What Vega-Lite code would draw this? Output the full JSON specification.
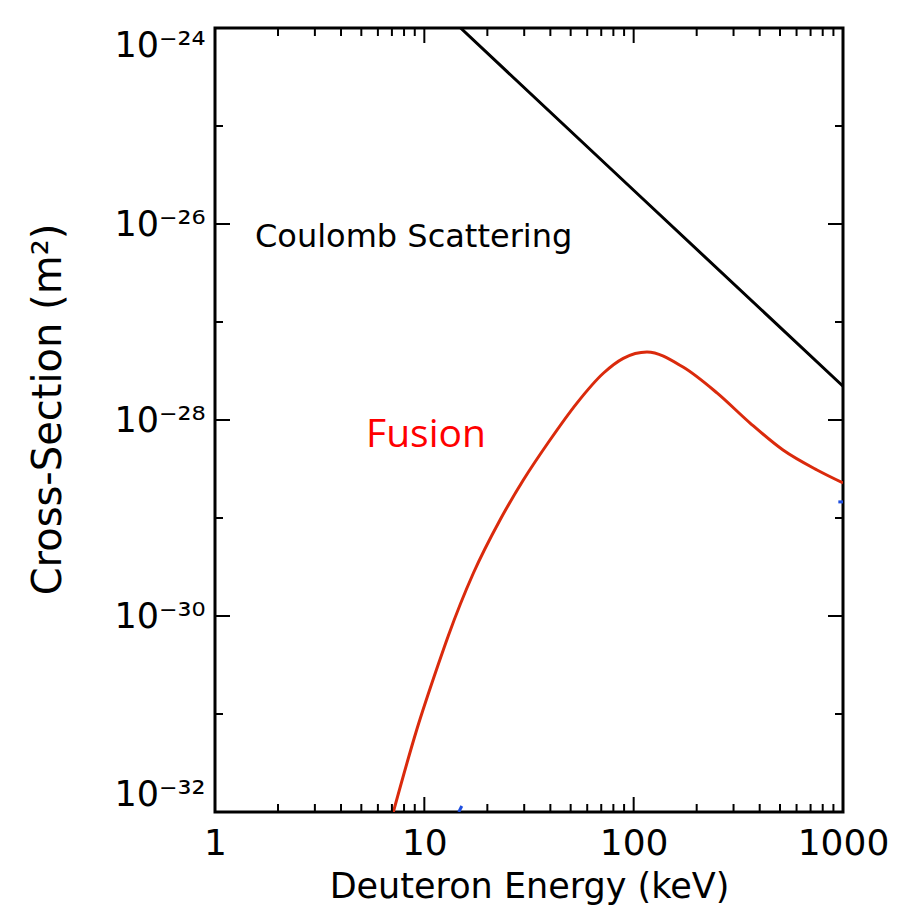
{
  "$schema": "https://vega.github.io/schema/vega-lite/v6.json",
  "width": 628,
  "height": 784,
  "autosize": "none",
  "padding": {"left": 215, "top": 28, "right": 65, "bottom": 96},
  "background": "white",
  "datasets": {
    "coulomb": [
      {"E": 14.9, "sigma": 1e-24},
      {"E": 100, "sigma": 2.21e-26},
      {"E": 1000, "sigma": 2.21e-28}
    ],
    "fusion": [
      {"E": 7.11, "sigma": 1.0e-32},
      {"E": 9.19, "sigma": 6.87e-32},
      {"E": 11.63, "sigma": 3.16e-31},
      {"E": 13.02, "sigma": 6.3e-31},
      {"E": 17.14, "sigma": 2.73e-30},
      {"E": 22.99, "sigma": 9.55e-30},
      {"E": 29.71, "sigma": 2.44e-29},
      {"E": 39.84, "sigma": 6.25e-29},
      {"E": 53.45, "sigma": 1.48e-28},
      {"E": 71.6, "sigma": 3.0e-28},
      {"E": 89.2, "sigma": 4.26e-28},
      {"E": 115.8, "sigma": 4.94e-28},
      {"E": 172.1, "sigma": 3.47e-28},
      {"E": 250, "sigma": 1.89e-28},
      {"E": 359.7, "sigma": 9.31e-29},
      {"E": 517, "sigma": 4.94e-29},
      {"E": 751.6, "sigma": 3.09e-29},
      {"E": 1000, "sigma": 2.28e-29}
    ],
    "blue": [
      {"seg": "a", "E": 14.6, "sigma": 1.0e-32},
      {"seg": "a", "E": 15.1, "sigma": 1.15e-32},
      {"seg": "b", "E": 950, "sigma": 1.46e-29},
      {"seg": "b", "E": 1000, "sigma": 1.46e-29}
    ],
    "labels": [
      {"E": 1.553, "sigma": 5.82e-27, "text": "Coulomb Scattering", "kind": "coulomb"},
      {"E": 5.265, "sigma": 5.35e-29, "text": "Fusion", "kind": "fusion"}
    ],
    "xticks": [
      {"E": 2, "edge": 1e-32, "kind": "minor"}, {"E": 3, "edge": 1e-32, "kind": "minor"}, {"E": 4, "edge": 1e-32, "kind": "minor"}, {"E": 5, "edge": 1e-32, "kind": "minor"}, {"E": 6, "edge": 1e-32, "kind": "minor"}, {"E": 7, "edge": 1e-32, "kind": "minor"}, {"E": 8, "edge": 1e-32, "kind": "minor"}, {"E": 9, "edge": 1e-32, "kind": "minor"},
      {"E": 10, "edge": 1e-32, "kind": "major"},
      {"E": 20, "edge": 1e-32, "kind": "minor"}, {"E": 30, "edge": 1e-32, "kind": "minor"}, {"E": 40, "edge": 1e-32, "kind": "minor"}, {"E": 50, "edge": 1e-32, "kind": "minor"}, {"E": 60, "edge": 1e-32, "kind": "minor"}, {"E": 70, "edge": 1e-32, "kind": "minor"}, {"E": 80, "edge": 1e-32, "kind": "minor"}, {"E": 90, "edge": 1e-32, "kind": "minor"},
      {"E": 100, "edge": 1e-32, "kind": "major"},
      {"E": 200, "edge": 1e-32, "kind": "minor"}, {"E": 300, "edge": 1e-32, "kind": "minor"}, {"E": 400, "edge": 1e-32, "kind": "minor"}, {"E": 500, "edge": 1e-32, "kind": "minor"}, {"E": 600, "edge": 1e-32, "kind": "minor"}, {"E": 700, "edge": 1e-32, "kind": "minor"}, {"E": 800, "edge": 1e-32, "kind": "minor"}, {"E": 900, "edge": 1e-32, "kind": "minor"},
      {"E": 2, "edge": 1e-24, "kind": "minor"}, {"E": 3, "edge": 1e-24, "kind": "minor"}, {"E": 4, "edge": 1e-24, "kind": "minor"}, {"E": 5, "edge": 1e-24, "kind": "minor"}, {"E": 6, "edge": 1e-24, "kind": "minor"}, {"E": 7, "edge": 1e-24, "kind": "minor"}, {"E": 8, "edge": 1e-24, "kind": "minor"}, {"E": 9, "edge": 1e-24, "kind": "minor"},
      {"E": 10, "edge": 1e-24, "kind": "major"},
      {"E": 20, "edge": 1e-24, "kind": "minor"}, {"E": 30, "edge": 1e-24, "kind": "minor"}, {"E": 40, "edge": 1e-24, "kind": "minor"}, {"E": 50, "edge": 1e-24, "kind": "minor"}, {"E": 60, "edge": 1e-24, "kind": "minor"}, {"E": 70, "edge": 1e-24, "kind": "minor"}, {"E": 80, "edge": 1e-24, "kind": "minor"}, {"E": 90, "edge": 1e-24, "kind": "minor"},
      {"E": 100, "edge": 1e-24, "kind": "major"},
      {"E": 200, "edge": 1e-24, "kind": "minor"}, {"E": 300, "edge": 1e-24, "kind": "minor"}, {"E": 400, "edge": 1e-24, "kind": "minor"}, {"E": 500, "edge": 1e-24, "kind": "minor"}, {"E": 600, "edge": 1e-24, "kind": "minor"}, {"E": 700, "edge": 1e-24, "kind": "minor"}, {"E": 800, "edge": 1e-24, "kind": "minor"}, {"E": 900, "edge": 1e-24, "kind": "minor"}
    ],
    "yticks": [
      {"sigma": 1e-31, "edge": 1, "kind": "minor"}, {"sigma": 1e-30, "edge": 1, "kind": "major"}, {"sigma": 1e-29, "edge": 1, "kind": "minor"}, {"sigma": 1e-28, "edge": 1, "kind": "major"}, {"sigma": 1e-27, "edge": 1, "kind": "minor"}, {"sigma": 1e-26, "edge": 1, "kind": "major"}, {"sigma": 1e-25, "edge": 1, "kind": "minor"},
      {"sigma": 1e-31, "edge": 1000, "kind": "minor"}, {"sigma": 1e-30, "edge": 1000, "kind": "major"}, {"sigma": 1e-29, "edge": 1000, "kind": "minor"}, {"sigma": 1e-28, "edge": 1000, "kind": "major"}, {"sigma": 1e-27, "edge": 1000, "kind": "minor"}, {"sigma": 1e-26, "edge": 1000, "kind": "major"}, {"sigma": 1e-25, "edge": 1000, "kind": "minor"}
    ]
  },
  "layer": [
    {
      "data": {"name": "coulomb"},
      "mark": {"type": "line", "color": "black", "strokeWidth": 3, "clip": true},
      "encoding": {
        "x": {
          "field": "E", "type": "quantitative",
          "scale": {"type": "log", "domain": [1, 1000], "nice": false},
          "axis": {
            "orient": "bottom",
            "title": "Deuteron Energy (keV)",
            "values": [1, 10, 100, 1000],
            "format": "d",
            "ticks": false,
            "domain": false,
            "labelPadding": 14,
            "labelFontSize": 36,
            "labelFlush": false,
            "titleY": 74,
            "titleBaseline": "middle"
          }
        },
        "y": {
          "field": "sigma", "type": "quantitative",
          "scale": {"type": "log", "domain": [1e-32, 1e-24], "nice": false},
          "axis": {
            "orient": "left",
            "title": "Cross-Section (m²)",
            "values": [1e-32, 1e-30, 1e-28, 1e-26, 1e-24],
            "labelExpr": "round(log(datum.value)/LN10) == -24 ? '10⁻²⁴' : round(log(datum.value)/LN10) == -26 ? '10⁻²⁶' : round(log(datum.value)/LN10) == -28 ? '10⁻²⁸' : round(log(datum.value)/LN10) == -30 ? '10⁻³⁰' : '10⁻³²'",
            "ticks": false,
            "domain": false,
            "labelPadding": 10,
            "labelFontSize": 35,
            "labelFlush": true,
            "titleFontSize": 40,
            "titleAngle": -90,
            "titleX": -167,
            "titleY": 381,
            "titleAlign": "center",
            "titleBaseline": "middle"
          }
        }
      }
    },
    {
      "data": {"name": "fusion"},
      "mark": {"type": "line", "color": "#DA2A0C", "strokeWidth": 3, "interpolate": "monotone", "clip": true},
      "encoding": {
        "x": {"field": "E", "type": "quantitative"},
        "y": {"field": "sigma", "type": "quantitative"}
      }
    },
    {
      "data": {"name": "blue"},
      "mark": {"type": "line", "color": "#1F4FE0", "strokeWidth": 3, "clip": true},
      "encoding": {
        "x": {"field": "E", "type": "quantitative"},
        "y": {"field": "sigma", "type": "quantitative"},
        "detail": {"field": "seg"}
      }
    },
    {
      "data": {"name": "xticks"},
      "mark": {"type": "tick", "orient": "vertical", "color": "black", "thickness": 2, "opacity": 1, "clip": true},
      "encoding": {
        "x": {"field": "E", "type": "quantitative"},
        "y": {"field": "edge", "type": "quantitative"},
        "size": {"field": "kind", "type": "nominal", "scale": {"domain": ["major", "minor"], "range": [30, 16]}, "legend": null}
      }
    },
    {
      "data": {"name": "yticks"},
      "mark": {"type": "tick", "orient": "horizontal", "color": "black", "thickness": 2, "opacity": 1, "clip": true},
      "encoding": {
        "x": {"field": "edge", "type": "quantitative"},
        "y": {"field": "sigma", "type": "quantitative"},
        "size": {"field": "kind", "type": "nominal", "scale": {"domain": ["major", "minor"], "range": [26, 12]}, "legend": null}
      }
    },
    {
      "data": {"name": "labels"},
      "transform": [{"filter": "datum.kind == 'coulomb'"}],
      "mark": {"type": "text", "align": "left", "baseline": "alphabetic", "font": "DejaVu Sans", "fontSize": 32, "color": "black"},
      "encoding": {
        "x": {"field": "E", "type": "quantitative"},
        "y": {"field": "sigma", "type": "quantitative"},
        "text": {"field": "text"}
      }
    },
    {
      "data": {"name": "labels"},
      "transform": [{"filter": "datum.kind == 'fusion'"}],
      "mark": {"type": "text", "align": "left", "baseline": "alphabetic", "font": "Open Sans", "fontSize": 39, "color": "#FF0000"},
      "encoding": {
        "x": {"field": "E", "type": "quantitative"},
        "y": {"field": "sigma", "type": "quantitative"},
        "text": {"field": "text"}
      }
    }
  ],
  "config": {
    "view": {"stroke": "black", "strokeWidth": 3},
    "axis": {
      "grid": false,
      "labelFont": "DejaVu Sans",
      "labelFontSize": 34,
      "labelColor": "black",
      "labelOverlap": false,
      "labelBound": false,
      "titleFont": "DejaVu Sans",
      "titleFontSize": 35,
      "titleFontWeight": "normal",
      "titleColor": "black"
    }
  }
}
